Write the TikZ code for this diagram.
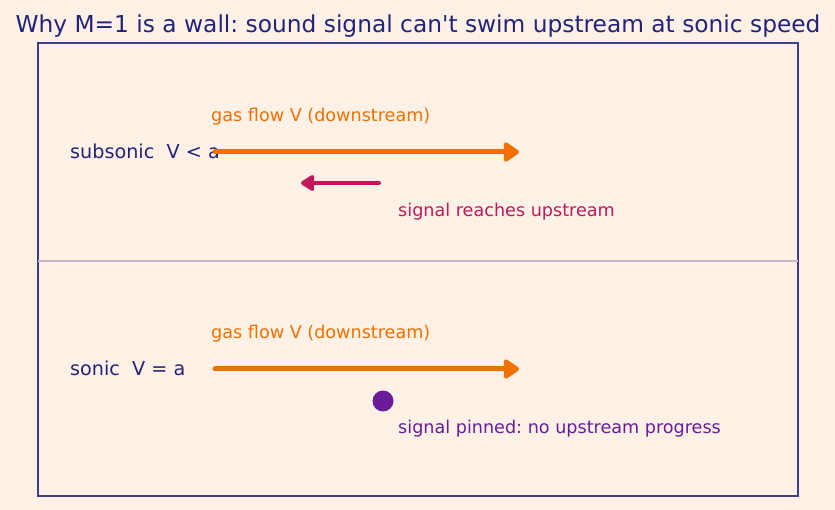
\documentclass[tikz,border=0pt]{standalone}
\usepackage{fontspec}
\setmainfont{DejaVu Sans}
\usetikzlibrary{arrows.meta}
\definecolor{bg}{HTML}{FFF1E6}
\definecolor{navy}{HTML}{22247A}
\definecolor{frame}{HTML}{3B3F8C}
\definecolor{flow}{HTML}{F07000}
\definecolor{sig}{HTML}{C2185B}
\definecolor{pin}{HTML}{6A1B9A}
\definecolor{divider}{HTML}{C8B6CC}
\frenchspacing
\begin{document}
\begin{tikzpicture}[x=1pt,y=-1pt,
  lbl/.style={anchor=west,inner sep=0pt,font=\fontsize{17.6}{21}\selectfont\frenchspacing},
  biglbl/.style={anchor=west,inner sep=0pt,font=\fontsize{19.2}{23}\selectfont},
  flowarrow/.style={flow,line width=5pt,line cap=round,-{Triangle[round,length=17pt,width=22pt]}},
  sigarrow/.style={sig,line width=4pt,line cap=round,-{Triangle[round,length=15pt,width=18pt]}}]
\useasboundingbox[fill=bg] (0,0) rectangle (835,510);
\node[font=\fontsize{23.3}{28}\selectfont\frenchspacing,text=navy,inner sep=0pt] (title) at (418,26.5) {Why M=1 is a wall: sound signal can\textquotesingle t swim upstream at sonic speed};
\draw[frame,line width=1.5pt] (38,43) rectangle (798,496);
\coordinate (dl) at (38,261);
\coordinate (dr) at (798,261);
\draw[divider,line width=1.3pt] (dl) -- (dr);
% subsonic
\node[biglbl,text=navy] (sub) at (70,151.5) {subsonic\ \ V < a};
\node[lbl,text=flow] (gf1) at (211,117) {gas flow V (downstream)};
\coordinate (f1s) at (215,152);
\coordinate (f1e) at (519,152);
\draw[flowarrow] (f1s) -- (f1e);
\coordinate (s1s) at (379,183);
\coordinate (s1e) at (301,183);
\draw[sigarrow] (s1s) -- (s1e);
\node[lbl,text=sig] (sr) at (398,212) {signal reaches upstream};
% sonic
\node[biglbl,text=navy] (son) at (70,368.5) {sonic\ \ V = a};
\node[lbl,text=flow] (gf2) at (211,334) {gas flow V (downstream)};
\coordinate (f2s) at (215,369);
\coordinate (f2e) at (519,369);
\draw[flowarrow] (f2s) -- (f2e);
\node[circle,fill=pin,minimum size=21pt,inner sep=0pt] (dot) at (383,401) {};
\node[lbl,text=pin] (sp) at (398,429) {signal pinned: no upstream progress};
\end{tikzpicture}
\end{document}
